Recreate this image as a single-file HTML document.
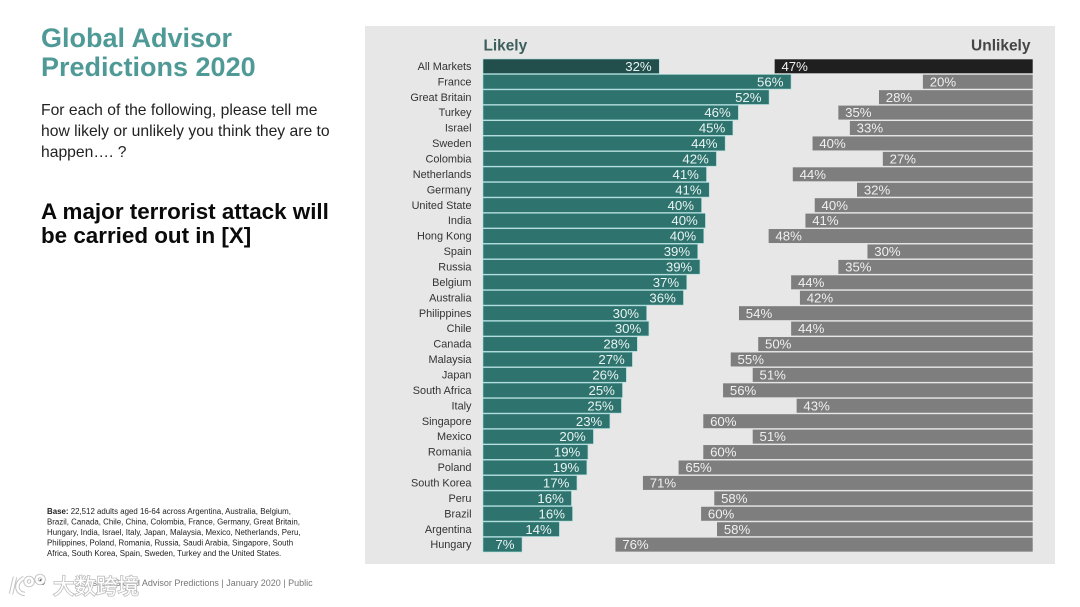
<!DOCTYPE html>
<html lang="en">
<head>
<meta charset="utf-8">
<title>Global Advisor Predictions 2020</title>
<style>
html,body{margin:0;padding:0;background:#fff;width:1080px;height:607px;overflow:hidden}
svg{display:block;font-family:"Liberation Sans",Arial,sans-serif}
</style>
</head>
<body>
<svg id="slide" xmlns="http://www.w3.org/2000/svg" width="1080" height="607" viewBox="0 0 1080 607">
  <rect x="365" y="26" width="690" height="538" fill="#e7e7e7"/>

  <g font-weight="700" font-size="27" fill="#4f9a96">
    <text x="41" y="47">Global Advisor</text>
    <text x="41" y="76">Predictions 2020</text>
  </g>
  <g font-size="15.7" fill="#222">
    <text x="41" y="115">For each of the following, please tell me</text>
    <text x="41" y="136">how likely or unlikely you think they are to</text>
    <text x="41" y="157">happen…. ?</text>
  </g>
  <g font-size="22.4" font-weight="700" fill="#0a0a0a">
    <text x="41" y="219">A major terrorist attack will</text>
    <text x="41" y="243">be carried out in [X]</text>
  </g>
  <g font-size="7.9" fill="#222">
    <text x="47" y="514"><tspan font-weight="700">Base:</tspan> 22,512 adults aged 16-64 across Argentina, Australia, Belgium,</text>
    <text x="47" y="524.5">Brazil, Canada, Chile, China, Colombia, France, Germany, Great Britain,</text>
    <text x="47" y="535">Hungary, India, Israel, Italy, Japan, Malaysia, Mexico, Netherlands, Peru,</text>
    <text x="47" y="545.5">Philippines, Poland, Romania, Russia, Saudi Arabia, Singapore, South</text>
    <text x="47" y="556">Africa, South Korea, Spain, Sweden, Turkey and the United States.</text>
  </g>
  <text x="85" y="586" font-size="9" fill="#777">Ipsos | Global Advisor Predictions | January 2020 | Public</text>
  <circle cx="42" cy="582" r="3" fill="#222"/>

  <g>
    <path d="M15 577 L11 594 M24 578 C15 582 15 593 25 594 M29 578 a3.5 3.5 0 1 0 .1 0 M40 576 a3.5 3.5 0 1 0 .1 0" fill="none" stroke="#c4c4c4" stroke-width="4.5"/>
    <path d="M15 577 L11 594 M24 578 C15 582 15 593 25 594 M29 578 a3.5 3.5 0 1 0 .1 0 M40 576 a3.5 3.5 0 1 0 .1 0" fill="none" stroke="#ffffff" stroke-width="2.5"/>
    <text x="53" y="594" font-size="21.5" fill="#ffffff" stroke="#bcbcbc" stroke-width="1.6" paint-order="stroke" style="font-family:'Liberation Sans','Noto Sans CJK SC',sans-serif">大数跨境</text>
  </g>

  <text x="483.5" y="50.5" font-size="15.4" font-weight="700" fill="#3c5f5d">Likely</text>
  <text x="1030.5" y="50.5" font-size="15.5" font-weight="700" fill="#454545" text-anchor="end">Unlikely</text>

  <g id="rows"></g>
</svg>

<script>
const categories = ["All Markets","France","Great Britain","Turkey","Israel","Sweden","Colombia","Netherlands","Germany","United State","India","Hong Kong","Spain","Russia","Belgium","Australia","Philippines","Chile","Canada","Malaysia","Japan","South Africa","Italy","Singapore","Mexico","Romania","Poland","South Korea","Peru","Brazil","Argentina","Hungary"];
const likelyValues = [32.0,56.0,52.0,46.4,45.4,44.0,42.4,40.6,41.1,39.7,40.4,40.1,39.0,39.4,37.0,36.4,29.7,30.1,28.0,27.1,26.0,25.3,25.1,23.0,20.0,19.0,18.8,17.0,16.0,16.2,13.8,7.0];
const unlikelyValues = [47.0,20.0,28.0,35.4,33.3,40.1,27.3,43.7,32.0,39.7,41.4,48.1,30.1,35.4,44.0,42.4,53.5,44.0,50.0,55.0,51.0,56.4,43.0,60.0,51.0,60.0,64.5,71.0,58.0,60.4,57.5,76.0];

const SVG_NS = "http://www.w3.org/2000/svg";
const rowsGroup = document.getElementById("rows");
const PX_PER_POINT = 5.49;
const LIKELY_ORIGIN = 483.3;
const UNLIKELY_ORIGIN = 1032.7;
const BAR_HEIGHT = 14;

function xLikely(v){ return LIKELY_ORIGIN + v * PX_PER_POINT; }
function xUnlikely(v){ return UNLIKELY_ORIGIN - v * PX_PER_POINT; }
function rowTop(i){ return 59.3 + i * 15.43; }

function makeRect(x, y, w, h, fill){
  const r = document.createElementNS(SVG_NS, "rect");
  r.setAttribute("x", x);
  r.setAttribute("y", y);
  r.setAttribute("width", w);
  r.setAttribute("height", h);
  r.setAttribute("fill", fill);
  return r;
}
function makeText(x, y, str, size, fill, anchor){
  const t = document.createElementNS(SVG_NS, "text");
  t.setAttribute("x", x);
  t.setAttribute("y", y);
  t.setAttribute("font-size", size);
  t.setAttribute("fill", fill);
  t.setAttribute("text-anchor", anchor);
  t.textContent = str;
  return t;
}

categories.forEach(function(name, i){
  const top = rowTop(i);
  const baseline = top + 11.6;
  const isTotal = i === 0;

  const label = makeText(471.5, top + 10.6, name, 10.9, "#333", "end");
  
  
  rowsGroup.appendChild(label);

  const leftEnd = xLikely(likelyValues[i]);
  const halo = makeRect(LIKELY_ORIGIN - 0.6, top - 0.6, leftEnd - LIKELY_ORIGIN + 1.2, BAR_HEIGHT + 1.2, "#a5dcdb");
  
  
  rowsGroup.appendChild(halo);

  const likelyBar = makeRect(LIKELY_ORIGIN, top, leftEnd - LIKELY_ORIGIN, BAR_HEIGHT, isTotal ? "#224f4c" : "#2f736e");
  
  
  rowsGroup.appendChild(likelyBar);

  const likelyLabel = makeText(leftEnd - 7.3, baseline, Math.round(likelyValues[i]) + "%", 13.2, "#e9f4f3", "end");
  
  
  rowsGroup.appendChild(likelyLabel);

  const rightStart = xUnlikely(unlikelyValues[i]);
  const unlikelyBar = makeRect(rightStart, top, UNLIKELY_ORIGIN - rightStart, BAR_HEIGHT, isTotal ? "#1f1f1f" : "#7e7e7e");
  
  
  rowsGroup.appendChild(unlikelyBar);

  const unlikelyLabel = makeText(rightStart + 6.8, baseline, Math.round(unlikelyValues[i]) + "%", 13.2, "#f0f0f0", "start");
  
  
  rowsGroup.appendChild(unlikelyLabel);
});
</script>
</body>
</html>
